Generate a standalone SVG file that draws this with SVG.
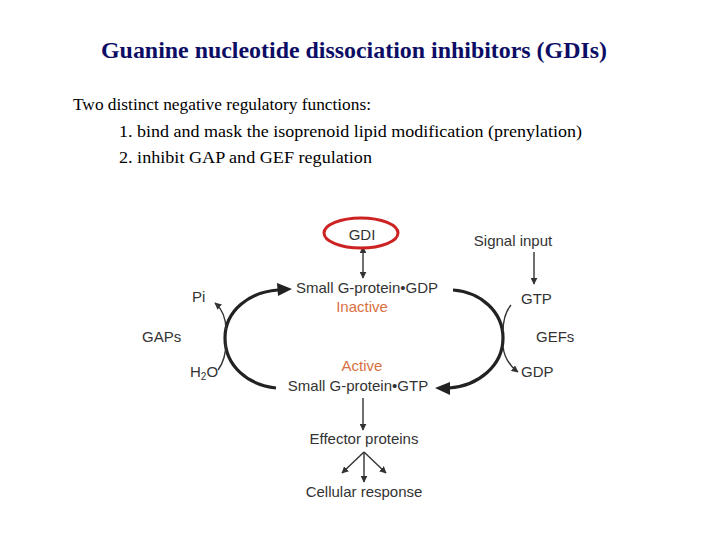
<svg xmlns="http://www.w3.org/2000/svg" width="720" height="540" viewBox="0 0 720 540">
<defs>
<style>
.title{font-family:"Liberation Serif",serif;font-weight:bold;font-size:24px;fill:#0d0d66}
.body{font-family:"Liberation Serif",serif;font-size:17.5px;fill:#000}
.lbl{font-family:"Liberation Sans",Arial,sans-serif;font-size:15px;fill:#333}
.ora{font-family:"Liberation Sans",Arial,sans-serif;font-size:15px;fill:#d9703f}
.thin{fill:none;stroke:#333;stroke-width:1.4}
.thick{fill:none;stroke:#222;stroke-width:3.2}
</style>
<marker id="ah" viewBox="0 0 10 10" refX="9" refY="5" markerWidth="7" markerHeight="7" markerUnits="userSpaceOnUse" orient="auto-start-reverse">
<path d="M0,0 L10,5 L0,10 z" fill="#333"/>
</marker>
</defs>
<rect width="720" height="540" fill="#fff"/>
<text class="title" x="101" y="58" textLength="506" lengthAdjust="spacingAndGlyphs">Guanine nucleotide dissociation inhibitors (GDIs)</text>
<text class="body" x="73" y="110" textLength="298" lengthAdjust="spacingAndGlyphs">Two distinct negative regulatory functions:</text>
<text class="body" x="119" y="137" textLength="463" lengthAdjust="spacingAndGlyphs">1. bind and mask the isoprenoid lipid modification (prenylation)</text>
<text class="body" x="119" y="163" textLength="253" lengthAdjust="spacingAndGlyphs">2. inhibit GAP and GEF regulation</text>

<g id="connectors">
<line class="thin" x1="363" y1="247" x2="363" y2="278" marker-start="url(#ah)" marker-end="url(#ah)"/>
<line class="thin" x1="534" y1="252" x2="534" y2="284" marker-end="url(#ah)"/>
<line class="thin" x1="363" y1="398" x2="363" y2="430" marker-end="url(#ah)"/>
<line class="thin" x1="364" y1="452" x2="342" y2="473" marker-end="url(#ah)"/>
<line class="thin" x1="364" y1="452" x2="364" y2="482" marker-end="url(#ah)"/>
<line class="thin" x1="364" y1="452" x2="386" y2="473" marker-end="url(#ah)"/>
<path class="thick" d="M225,338 C225,310 250,292 278,290"/>
<path d="M292,289 L277,283 L278,296 z" fill="#222"/>
<path class="thick" d="M225,338 C225,366 248,385 276,388"/>
<path class="thick" d="M453,290 C481,292 503,312 503,338 C503,366 478,386 449,388"/>
<path d="M435,388 L450,382 L450,395 z" fill="#222"/>
<path class="thin" d="M226,330 C226,318 222,309 215,303" marker-end="url(#ah)"/>
<path class="thin" d="M218,370 C224,362 226,352 226,342"/>
<path class="thin" d="M511,305 C505,312 503,322 503,332"/>
<path class="thin" d="M503,346 C504,358 510,366 518,372" marker-end="url(#ah)"/>
</g>

<g id="gdi">
<ellipse cx="361" cy="233" rx="37" ry="15" fill="none" stroke="#cc2222" stroke-width="3"/>
<text class="lbl" x="362" y="240" text-anchor="middle">GDI</text>
</g>
<g id="gdp-state">
<text class="lbl" x="367" y="293" text-anchor="middle">Small G-protein•GDP</text>
<text class="ora" x="362" y="312" text-anchor="middle">Inactive</text>
</g>
<g id="gtp-state">
<text class="ora" x="362" y="371" text-anchor="middle">Active</text>
<text class="lbl" x="358" y="391" text-anchor="middle">Small G-protein•GTP</text>
</g>
<g id="signal"><text class="lbl" x="513" y="246" text-anchor="middle">Signal input</text></g>
<g id="gtp"><text class="lbl" x="521" y="304">GTP</text></g>
<g id="gdp"><text class="lbl" x="521" y="377">GDP</text></g>
<g id="gefs"><text class="lbl" x="536" y="342">GEFs</text></g>
<g id="gaps"><text class="lbl" x="142" y="342">GAPs</text></g>
<g id="pi"><text class="lbl" x="192" y="302">Pi</text></g>
<g id="h2o"><text class="lbl" x="190" y="377">H<tspan font-size="10" dy="3">2</tspan><tspan dy="-3">O</tspan></text></g>
<g id="effector"><text class="lbl" x="364" y="444" text-anchor="middle">Effector proteins</text></g>
<g id="response"><text class="lbl" x="364" y="497" text-anchor="middle">Cellular response</text></g>
</svg>
